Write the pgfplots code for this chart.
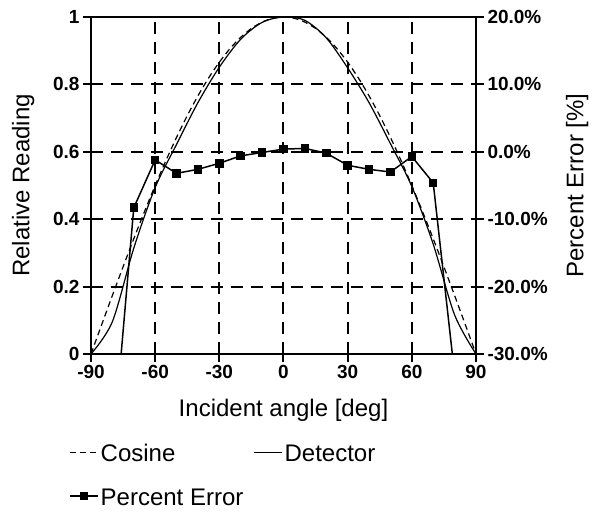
\documentclass[border=0pt]{standalone}
\usepackage{pgfplots}
\pgfplotsset{compat=1.18}
\usepackage{fontspec}
\setmainfont{Liberation Sans}

\pgfplotstableread{
ang cos
-90 0
-85 0.0872
-80 0.1736
-75 0.2588
-70 0.3420
-65 0.4226
-60 0.5
-55 0.5736
-50 0.6428
-45 0.7071
-40 0.7660
-35 0.8192
-30 0.8660
-25 0.9063
-20 0.9397
-15 0.9659
-10 0.9848
-5 0.9962
0 1
5 0.9962
10 0.9848
15 0.9659
20 0.9397
25 0.9063
30 0.8660
35 0.8192
40 0.7660
45 0.7071
50 0.6428
55 0.5736
60 0.5
65 0.4226
70 0.3420
75 0.2588
80 0.1736
85 0.0872
90 0
}\cosdata

\pgfplotstableread{
ang det
-90 0
-80 0.096
-70 0.314
-60 0.494
-50 0.622
-40 0.746
-30 0.851
-20 0.934
-10 0.984
0 1.0
10 0.990
20 0.938
30 0.849
40 0.746
50 0.624
60 0.497
70 0.326
80 0.116
90 0
}\detdata

\pgfplotstableread{
ang err
-80 -45
-70 -8.3
-60 -1.2
-50 -3.2
-40 -2.6
-30 -1.7
-20 -0.6
-10 -0.1
0 0.4
10 0.5
20 -0.2
30 -2.0
40 -2.6
50 -3.0
60 -0.7
70 -4.6
80 -33
}\errdata

\begin{document}
\begin{tikzpicture}[x=1pt,y=1pt]
\useasboundingbox (-91,-158) rectangle (501,17+337);
\begin{axis}[
  at={(0,0)}, anchor=south west,
  scale only axis, width=385pt, height=337pt,
  xmin=-90, xmax=90, ymin=0, ymax=1,
  xtick={-90,-60,-30,0,30,60,90},
  ytick={0,0.2,0.4,0.6,0.8,1},
  yticklabels={0,0.2,0.4,0.6,0.8,1},
  xtick pos=left, ytick pos=left,
  tick align=outside, major tick length=8pt,
  grid=major,
  major grid style={black, line width=2pt, dash pattern=on 12pt off 8pt},
  axis line style={line width=2pt},
  every tick/.style={black, line width=2pt},
  /pgf/number format/assume math mode=true,
  tick label style={font=\fontsize{19}{22}\selectfont\bfseries},
  label style={font=\fontsize{24}{28}\selectfont},
  xlabel={Incident angle [deg]},
  ylabel={Relative Reading},
  xlabel style={at={(rel axis cs:0.5,0)}, anchor=north, yshift=-42pt},
  ylabel style={at={(rel axis cs:0,0.5)}, anchor=south, yshift=53pt},
  legend columns=2,
  legend style={draw=none, fill=none, at={(rel axis cs:-0.065,-0.255)}, anchor=north west,
    font=\fontsize{24}{28}\selectfont,
    nodes={text height=17pt, text depth=5pt},
    /tikz/every even column/.append style={column sep=8pt},
    row sep=18pt, cells={anchor=west}},
  legend image code/.code={\draw[yshift=3pt,#1] plot coordinates {(0pt,0pt) (14pt,0pt) (28pt,0pt)};},
]
\addplot[black, line width=1.2pt, dash pattern=on 6pt off 4pt, smooth] table[x=ang,y=cos] {\cosdata};
\addlegendentry{Cosine}
\addplot[black, line width=1.2pt, smooth] table[x=ang,y=det] {\detdata};
\addlegendentry{Detector}
\addlegendimage{black, line width=1.5pt, mark=square*, mark size=3.5pt, mark repeat=2, mark phase=2}
\addlegendentry{Percent Error}
\end{axis}
\begin{axis}[
  at={(0,0)}, anchor=south west,
  scale only axis, width=385pt, height=337pt,
  xmin=-90, xmax=90, ymin=-30, ymax=20,
  axis x line=none,
  axis y line*=right,
  ytick={-30,-20,-10,0,10,20},
  tick align=outside, major tick length=8pt,
  axis line style={line width=2pt},
  every tick/.style={black, line width=2pt},
  /pgf/number format/assume math mode=true,
  yticklabel={\pgfmathprintnumber[fixed,fixed zerofill,precision=1]{\tick}\%},
  tick label style={font=\fontsize{19}{22}\selectfont\bfseries},
  ylabel={Percent Error [\%]},
  label style={font=\fontsize{24}{28}\selectfont},
  ylabel style={at={(rel axis cs:1,0.5)}, anchor=south, rotate=0, yshift=-116pt},
]
\addplot[black, line width=1.5pt, mark=square*, mark size=3.5pt] table[x=ang,y=err] {\errdata};
\end{axis}
\end{tikzpicture}
\end{document}
